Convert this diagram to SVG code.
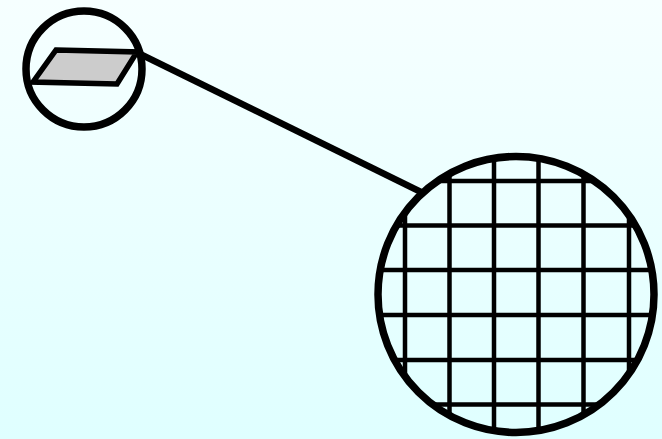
<svg xmlns="http://www.w3.org/2000/svg" width="662" height="439" viewBox="0 0 662 439">
<defs>
<linearGradient id="bg" x1="0" y1="0" x2="0" y2="1">
<stop offset="0" stop-color="#f6ffff"/>
<stop offset="1" stop-color="#dfffff"/>
</linearGradient>
<clipPath id="bigclip"><circle cx="516" cy="294.5" r="138"/></clipPath>
<style>
.ring{fill:none;stroke:#000;stroke-width:7.5}
.grid line{stroke:#000;stroke-width:4.5}
.link{stroke:#000;stroke-width:6.5;fill:none}
</style>
</defs>
<rect width="662" height="439" fill="url(#bg)"/>
<g id="connectors">
<line class="link" x1="138" y1="53" x2="421" y2="192"/>
</g>
<g id="small">
<polygon points="56,50 137,52 117,84 33,82" fill="#cccccc" stroke="#000" stroke-width="5.5" stroke-linejoin="miter"/>
<circle class="ring" cx="84" cy="69" r="58"/>
</g>
<g id="big">
<g class="grid" clip-path="url(#bigclip)">
<line x1="405" y1="150" x2="405" y2="440"/>
<line x1="449.5" y1="150" x2="449.5" y2="440"/>
<line x1="494" y1="150" x2="494" y2="440"/>
<line x1="538.5" y1="150" x2="538.5" y2="440"/>
<line x1="583.5" y1="150" x2="583.5" y2="440"/>
<line x1="629" y1="150" x2="629" y2="440"/>
<line x1="370" y1="181" x2="662" y2="181"/>
<line x1="370" y1="225.5" x2="662" y2="225.5"/>
<line x1="370" y1="270" x2="662" y2="270"/>
<line x1="370" y1="315" x2="662" y2="315"/>
<line x1="370" y1="360" x2="662" y2="360"/>
<line x1="370" y1="404.5" x2="662" y2="404.5"/>
</g>
<circle class="ring" cx="516" cy="294.5" r="138"/>
</g>
</svg>
